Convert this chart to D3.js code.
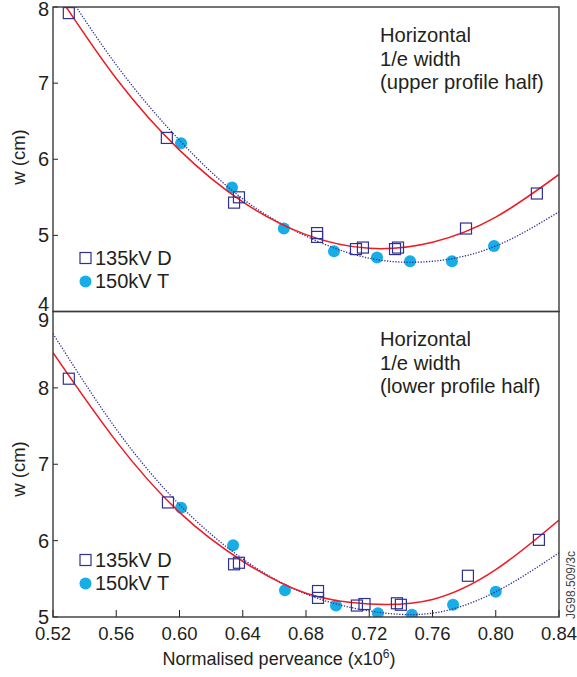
<!DOCTYPE html>
<html><head><meta charset="utf-8">
<script src="https://cdn.jsdelivr.net/npm/d3@7"></script>
<style>body{margin:0;background:#fff;} svg{display:block;font-family:"Liberation Sans",Arial,sans-serif;}</style>
</head><body><svg id="c" width="577" height="677"></svg>
<script>
// ---------- data ----------
const xTickValues = [0.52, 0.56, 0.60, 0.64, 0.68, 0.72, 0.76, 0.80, 0.84];
const topYTicks = [4, 5, 6, 7, 8];
const bottomYTicks = [5, 6, 7, 8, 9];
const legendLabels = ["135kV D", "150kV T"];
const topNote = ["Horizontal", "1/e width", "(upper profile half)"];
const bottomNote = ["Horizontal", "1/e width", "(lower profile half)"];
const xTitle = "Normalised perveance (x10";
const yTitle = "w (cm)";
const figId = "JG98.509/3c";

// upper profile half: [perveance, w]
const top135 = [[0.530,7.92],[0.592,6.28],[0.6345,5.43],[0.6376,5.50],[0.687,5.03],[0.687,4.98],
  [0.7116,4.82],[0.716,4.84],[0.7363,4.82],[0.7382,4.84],[0.7812,5.09],[0.826,5.55]];
const top150 = [[0.601,6.21],[0.6332,5.63],[0.666,5.09],[0.6977,4.79],[0.7249,4.71],
  [0.7458,4.66],[0.7723,4.66],[0.7989,4.86]];
const topFit135 = [[0.52,8.26],[0.56,7.06],[0.60,6.12],[0.64,5.44],[0.68,5.01],[0.72,4.83],
  [0.76,4.91],[0.80,5.24],[0.84,5.80]];
const topFit150 = [[0.52,8.47],[0.56,7.24],[0.60,6.25],[0.64,5.48],[0.68,4.99],[0.72,4.70],
  [0.76,4.66],[0.80,4.86],[0.84,5.31]];

// lower profile half
const bot135 = [[0.530,8.12],[0.5927,6.50],[0.6345,5.69],[0.6376,5.71],[0.6876,5.34],[0.6876,5.25],
  [0.7122,5.15],[0.717,5.17],[0.7375,5.18],[0.740,5.16],[0.7824,5.54],[0.8273,6.01]];
const bot150 = [[0.601,6.43],[0.6339,5.94],[0.6667,5.35],[0.699,5.15],[0.7255,5.05],
  [0.747,5.03],[0.773,5.16],[0.800,5.33]];
const botFit135 = [[0.52,8.46],[0.56,7.30],[0.60,6.37],[0.64,5.73],[0.68,5.31],[0.72,5.17],
  [0.76,5.23],[0.80,5.62],[0.84,6.27]];
const botFit150 = [[0.52,8.71],[0.56,7.46],[0.60,6.47],[0.64,5.76],[0.68,5.30],[0.72,5.08],
  [0.76,5.05],[0.80,5.33],[0.84,5.84]];

// ---------- drawing ----------
const svg = d3.select("#c");
const INK = "#231f20", NAVY = "#2e3192", CYAN = "#17ade6", RED = "#ed1c24";
const x = d3.scaleLinear().domain([0.52, 0.84]).range([53, 559]);

const panels = [
  {id:"t", y: d3.scaleLinear().domain([4, 8]).range([311.5, 7]), ticks: topYTicks,
   d135: top135, d150: top150, f135: topFit135, f150: topFit150, note: topNote,
   noteY: 42, legY: 258, titleY: 157, xAxis: false},
  {id:"b", y: d3.scaleLinear().domain([5, 9]).range([617, 311.5]), ticks: bottomYTicks,
   d135: bot135, d150: bot150, f135: botFit135, f150: botFit150, note: bottomNote,
   noteY: 346, legY: 560, titleY: 469, xAxis: true}
];

panels.forEach(p => {
  const y = p.y;
  const [y0, y1] = y.range();
  const g = svg.append("g");
  g.append("clipPath").attr("id", "clip" + p.id).append("rect")
    .attr("x", x.range()[0]).attr("y", y1).attr("width", x.range()[1] - x.range()[0]).attr("height", y0 - y1);

  // y ticks (inside)
  g.selectAll(".yt").data(p.ticks).enter().append("line")
    .attr("x1", x.range()[0]).attr("x2", x.range()[0] + 5)
    .attr("y1", d => y(d)).attr("y2", d => y(d))
    .attr("stroke", INK).attr("stroke-width", 1);
  const lo = d3.min(p.ticks), hi = d3.max(p.ticks);
  g.selectAll(".yl").data(p.ticks).enter().append("text")
    .attr("x", 49).attr("y", d => y(d) + (p.id === "t" && d === lo ? -8 : 0) + (p.id === "b" && d === hi ? 8 : 0) + (p.id === "t" && d === hi ? 1.5 : 0))
    .attr("dy", "0.35em").attr("text-anchor", "end")
    .attr("font-size", 20).attr("fill", INK).text(d => d);

  // y title
  g.append("text").attr("transform", `translate(25,${p.titleY}) rotate(-90)`)
    .attr("text-anchor", "middle").attr("font-size", 18.5).attr("fill", INK).text(yTitle);

  // x ticks
  if (p.xAxis) {
    g.selectAll(".xt").data(xTickValues).enter().append("line")
      .attr("x1", d => x(d)).attr("x2", d => x(d))
      .attr("y1", y0).attr("y2", y0 - 7).attr("stroke", INK).attr("stroke-width", 1);
    g.selectAll(".xl").data(xTickValues).enter().append("text")
      .attr("x", d => x(d)).attr("y", 640).attr("text-anchor", "middle")
      .attr("font-size", 18.5).attr("fill", INK).text(d => d3.format(".2f")(d));
  }

  const cg = g.append("g").attr("clip-path", `url(#clip${p.id})`);
  // circles
  cg.selectAll(".c").data(p.d150).enter().append("circle")
    .attr("cx", d => x(d[0])).attr("cy", d => y(d[1])).attr("r", 6).attr("fill", CYAN);
  const line = d3.line().x(d => x(d[0])).y(d => y(d[1])).curve(d3.curveNatural);
  cg.append("path").attr("d", line(p.f150)).attr("fill", "none")
    .attr("stroke", NAVY).attr("stroke-width", 1.3).attr("stroke-dasharray", "1.3,1.5");
  cg.append("path").attr("d", line(p.f135)).attr("fill", "none")
    .attr("stroke", RED).attr("stroke-width", 1.5);
  cg.selectAll(".s").data(p.d135).enter().append("rect")
    .attr("x", d => x(d[0]) - 5.5).attr("y", d => y(d[1]) - 5.5).attr("width", 11).attr("height", 11)
    .attr("fill", "none").attr("stroke", NAVY).attr("stroke-width", 1.2);

  // note
  g.append("text").attr("x", 380).attr("y", p.noteY).attr("font-size", 20.2).attr("fill", INK)
    .selectAll("tspan").data(p.note).enter().append("tspan")
    .attr("x", 380).attr("dy", (d, i) => i === 0 ? 0 : 23.5).text(d => d);

  // legend
  g.append("rect").attr("x", 80).attr("y", p.legY - 5.5).attr("width", 11).attr("height", 11)
    .attr("fill", "none").attr("stroke", NAVY).attr("stroke-width", 1.2);
  g.append("circle").attr("cx", 85.5).attr("cy", p.legY + 23.5).attr("r", 6).attr("fill", CYAN);
  legendLabels.forEach((t, i) => {
    g.append("text").attr("x", 95).attr("y", p.legY + 6.5 + i * 23.5).attr("font-size", 20)
      .attr("fill", INK).text(t);
  });

  // frame
  g.append("rect").attr("x", x.range()[0]).attr("y", y1).attr("width", x.range()[1] - x.range()[0])
    .attr("height", y0 - y1).attr("fill", "none").attr("stroke", "#3a3a3a").attr("stroke-width", 1.4);
});

// x title with superscript
const xt = svg.append("text").attr("x", 279).attr("y", 665).attr("text-anchor", "middle")
  .attr("font-size", 18).attr("fill", INK);
xt.append("tspan").text(xTitle);
xt.append("tspan").attr("font-size", 12).attr("dy", -7).text("6");
xt.append("tspan").attr("dy", 7).text(")");

// figure id
svg.append("text").attr("transform", "translate(575,585) rotate(-90)").attr("text-anchor", "middle")
  .attr("font-size", 12).attr("fill", "#444").text(figId);
</script></body></html>
